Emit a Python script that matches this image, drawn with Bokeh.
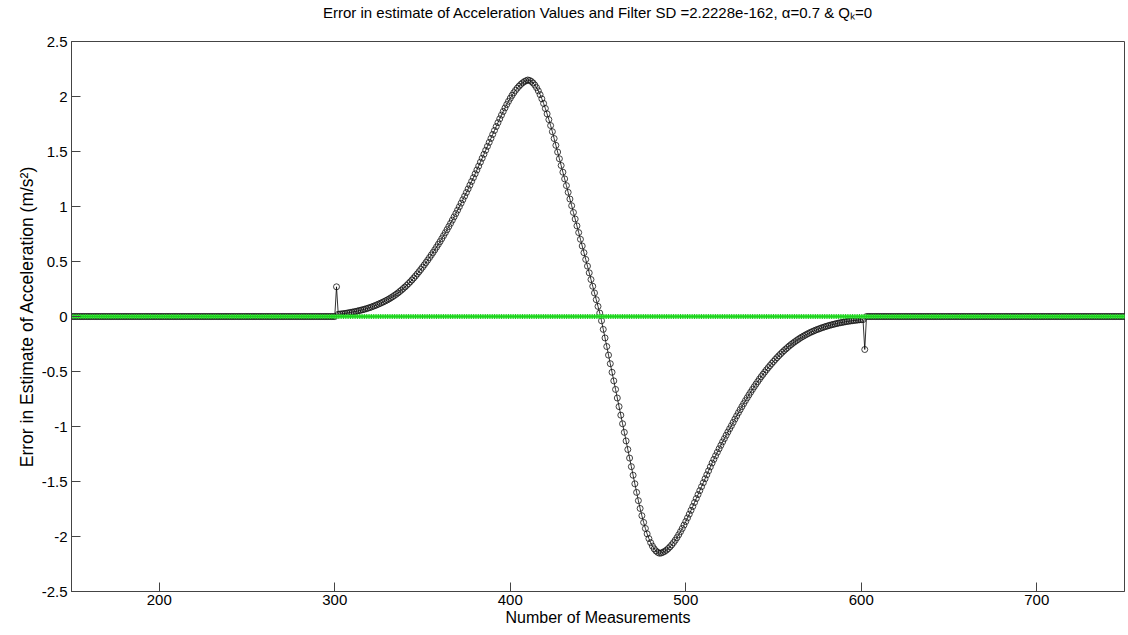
from bokeh.plotting import figure
from bokeh.models import FixedTicker, Range1d
from bokeh.embed import file_html
from bokeh.resources import INLINE

# ---------------- data ----------------
measurements = list(range(150, 751))

flat_before = [0.0] * 151            # measurements 150..300
spike_start = [0.27]                 # measurement 301
rise = [                             # measurements 302..451
    0.020, 0.022, 0.024, 0.026, 0.028, 0.031, 0.034, 0.037, 0.040, 0.043,
    0.046, 0.050, 0.054, 0.058, 0.062, 0.066, 0.071, 0.076, 0.081, 0.087,
    0.093, 0.099, 0.106, 0.113, 0.120, 0.127, 0.135, 0.143, 0.151, 0.160,
    0.170, 0.180, 0.191, 0.202, 0.214, 0.227, 0.240, 0.254, 0.268, 0.283,
    0.299, 0.315, 0.332, 0.350, 0.368, 0.387, 0.407, 0.427, 0.448, 0.469,
    0.491, 0.513, 0.536, 0.559, 0.582, 0.606, 0.631, 0.656, 0.681, 0.708,
    0.735, 0.762, 0.790, 0.818, 0.847, 0.876, 0.906, 0.936, 0.967, 0.998,
    1.030, 1.062, 1.094, 1.127, 1.160, 1.194, 1.228, 1.262, 1.297, 1.332,
    1.367, 1.403, 1.439, 1.475, 1.511, 1.547, 1.583, 1.619, 1.655, 1.691,
    1.727, 1.762, 1.797, 1.831, 1.864, 1.896, 1.927, 1.956, 1.984, 2.010,
    2.034, 2.056, 2.076, 2.094, 2.110, 2.124, 2.135, 2.143, 2.150, 2.146,
    2.137, 2.123, 2.104, 2.080, 2.051, 2.017, 1.979, 1.937, 1.891, 1.842,
    1.790, 1.736, 1.680, 1.618, 1.556, 1.495, 1.434, 1.373, 1.312, 1.251,
    1.190, 1.129, 1.068, 1.007, 0.946, 0.886, 0.824, 0.763, 0.702, 0.641,
    0.580, 0.519, 0.458, 0.397, 0.336, 0.275, 0.214, 0.153, 0.092, 0.031,
]
fall = [                             # measurements 452..601
    -0.039, -0.117, -0.195, -0.273, -0.351, -0.429, -0.507, -0.585, -0.663, -0.741,
    -0.819, -0.897, -0.975, -1.053, -1.131, -1.209, -1.287, -1.365, -1.443, -1.521,
    -1.599, -1.674, -1.745, -1.811, -1.872, -1.927, -1.976, -2.019, -2.056, -2.087,
    -2.112, -2.131, -2.144, -2.152,
    -2.150, -2.143, -2.135, -2.124, -2.110, -2.094, -2.076, -2.056, -2.034, -2.010,
    -1.984, -1.956, -1.927, -1.896, -1.864, -1.831, -1.797, -1.762, -1.727, -1.691,
    -1.655, -1.619, -1.583, -1.547, -1.511, -1.475, -1.439, -1.403, -1.367, -1.332,
    -1.299, -1.266, -1.234, -1.202, -1.171, -1.140, -1.110, -1.080, -1.050, -1.021,
    -0.993, -0.963, -0.933, -0.904, -0.875, -0.847, -0.819, -0.792, -0.765, -0.739,
    -0.713, -0.688, -0.663, -0.639, -0.615, -0.592, -0.569, -0.547, -0.526, -0.505,
    -0.485, -0.465, -0.446, -0.427, -0.409, -0.391, -0.374, -0.357, -0.341, -0.325,
    -0.310, -0.296, -0.282, -0.268, -0.255, -0.243, -0.231, -0.220, -0.209, -0.198,
    -0.188, -0.179, -0.170, -0.161, -0.153, -0.145, -0.138, -0.131, -0.124, -0.118,
    -0.112, -0.106, -0.100, -0.095, -0.090, -0.085, -0.080, -0.076, -0.072, -0.068,
    -0.064, -0.060, -0.057, -0.054, -0.051, -0.048, -0.045, -0.043, -0.040, -0.038,
    -0.036, -0.034, -0.032, -0.030, -0.029, -0.028,
]
spike_end = [-0.30]                  # measurement 602
flat_after = [0.0] * 148             # measurements 603..750

accel_error = flat_before + spike_start + rise + fall + spike_end + flat_after
filter_sd = [0.0] * 601              # green reference series (all zero)

x_ticks = [200, 300, 400, 500, 600, 700]
x_tick_labels = ["200", "300", "400", "500", "600", "700"]
y_ticks = [-2.5, -2, -1.5, -1, -0.5, 0, 0.5, 1, 1.5, 2, 2.5]
y_tick_labels = ["-2.5", "-2", "-1.5", "-1", "-0.5", "0", "0.5", "1", "1.5", "2", "2.5"]

title_text = "Error in estimate of Acceleration Values and Filter SD =2.2228e-162, \u03b1=0.7 & Q\u2096=0"
x_label = "Number of Measurements"
y_label = "Error in Estimate of Acceleration (m/s\u00b2)"

FONT = "Liberation Sans"
AXIS_COLOR = "#444444"

# ---------------- figure ----------------
p = figure(width=1128, height=635, output_backend="svg", toolbar_location=None,
           x_range=Range1d(150, 750), y_range=Range1d(-2.5, 2.5),
           min_border_left=71, min_border_right=4, min_border_top=41, min_border_bottom=44)
p.background_fill_color = "white"
p.border_fill_color = "white"
p.outline_line_color = AXIS_COLOR
p.outline_line_width = 1
p.xgrid.visible = False
p.ygrid.visible = False

# title: a blank second line keeps the text near the top of the page
p.title.text = title_text + "\n\u00a0"
p.title.align = "center"
p.title.vertical_align = "top"
p.title.text_font = FONT
p.title.text_font_size = "15px"
p.title.text_font_style = "normal"
p.title.text_color = "black"
p.title.standoff = 4

p.xaxis.ticker = FixedTicker(ticks=x_ticks)
p.xaxis.major_label_overrides = dict(zip(x_ticks, x_tick_labels))
p.yaxis.ticker = FixedTicker(ticks=y_ticks)
p.yaxis.major_label_overrides = dict(zip(y_ticks, y_tick_labels))

for ax in (p.xaxis[0], p.yaxis[0]):
    ax.axis_line_color = AXIS_COLOR
    ax.major_tick_line_color = AXIS_COLOR
    ax.major_tick_in = 9
    ax.major_tick_out = 0
    ax.minor_tick_line_color = None
    ax.major_label_text_font = FONT
    ax.major_label_text_font_size = "15px"
    ax.major_label_text_color = "black"
    ax.axis_label_text_font = FONT
    ax.axis_label_text_font_style = "normal"
    ax.axis_label_text_color = "black"

p.xaxis.axis_label = x_label
p.xaxis.axis_label_text_font_size = "16px"
p.xaxis.major_label_standoff = 3
p.xaxis.axis_label_standoff = 1
p.yaxis.axis_label = y_label
p.yaxis.axis_label_text_font_size = "17.5px"
p.yaxis.major_label_standoff = 4
p.yaxis.axis_label_standoff = 2

# black series: line + open circles
p.line(measurements, accel_error, line_color="black", line_width=0.8)
p.scatter(measurements, accel_error, marker="circle", size=6, fill_color=None,
          line_color="#111111", line_width=0.8)

# green series: line + markers
p.line(measurements, filter_sd, line_color="#44ff44", line_width=3)
p.scatter(measurements, filter_sd, marker="cross", size=5, line_color="#22cc22", line_width=1)

open("out.html", "w").write(file_html(p, INLINE))
